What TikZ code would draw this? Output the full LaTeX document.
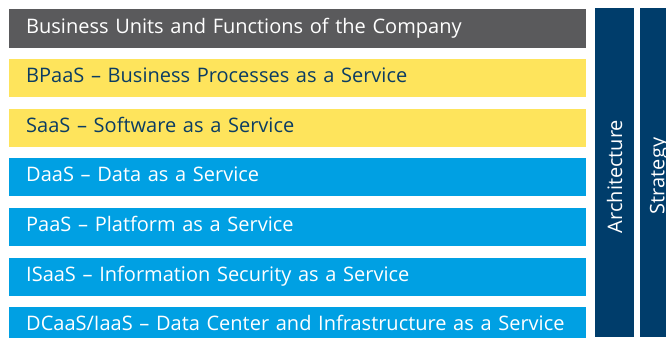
\documentclass[tikz,border=0pt]{standalone}
\usepackage{fontspec}
\setmainfont{Open Sans}
\definecolor{cgray}{HTML}{5A5A5C}
\definecolor{cyellow}{HTML}{FEE45C}
\definecolor{cnavytext}{HTML}{0B3C63}
\definecolor{cblue}{HTML}{00A0E3}
\definecolor{cbar}{HTML}{003D6B}
\begin{document}
\begin{tikzpicture}[x=1bp,y=-1bp,
  layer/.style={rectangle, anchor=north west, minimum width=577bp, minimum height=38.7bp,
    inner xsep=17bp, inner ysep=10bp, text height=14bp, text depth=4.7bp,
    font=\fontsize{20bp}{22bp}\selectfont, text width=543bp, align=left},
  graylayer/.style={layer, fill=cgray, text=white},
  yellowlayer/.style={layer, fill=cyellow, text=cnavytext},
  bluelayer/.style={layer, fill=cblue, text=white},
  vbar/.style={rectangle, fill=cbar, anchor=north west, minimum width=39bp, minimum height=329bp, inner sep=0pt},
  vlabel/.style={text=white, rotate=90, font=\fontsize{20bp}{22bp}\selectfont},
]
\useasboundingbox (0,0) rectangle (666,337);
\fill[white] (0,0) rectangle (666,337);
\node[graylayer]   (bu)   at (9,9)     {Business Units and Functions of the Company};
\node[yellowlayer] (bpaas) at (9,58.3) {BPaaS – Business Processes as a Service};
\node[yellowlayer] (saas) at (9,108.3) {SaaS – Software as a Service};
\node[bluelayer]   (daas) at (9,157.3) {DaaS – Data as a Service};
\node[bluelayer]   (paas) at (9,207.3) {PaaS – Platform as a Service};
\node[bluelayer]   (isaas) at (9,257.3) {ISaaS – Information Security as a Service};
\node[bluelayer]   (dcaas) at (9,306.3) {DCaaS/IaaS – Data Center and Infrastructure as a Service};
\node[vbar] (arch) at (595,8) {};
\node[vbar] (strat) at (640,8) {};
\node[vlabel] (archl) at (614.5,176.5) {Architecture};
\node[vlabel] (stratl) at (659.5,176) {Strategy};
\end{tikzpicture}
\end{document}
